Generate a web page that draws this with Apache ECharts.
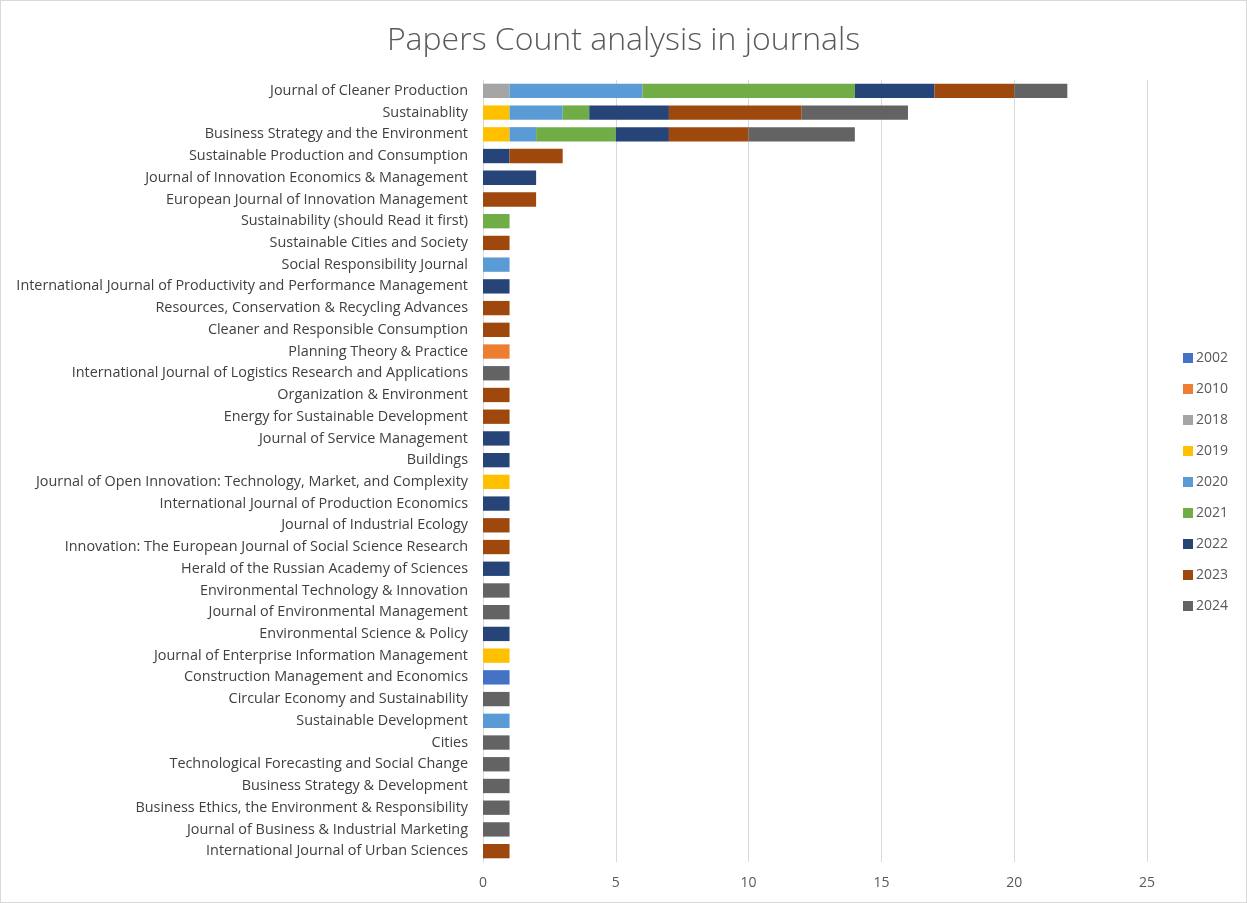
<!DOCTYPE html>
<html><head><meta charset="utf-8">
<script src="https://cdn.jsdelivr.net/npm/echarts@6/dist/echarts.min.js"></script>
<style>html,body{margin:0;padding:0;background:#fff}#c{width:1245px;height:901px;border:1px solid #d9d9d9}</style>
</head><body><div id="c"></div>
<script>
const categories = [
"Journal of Cleaner Production","Sustainablity","Business Strategy and the Environment","Sustainable Production and Consumption",
"Journal of Innovation Economics & Management","European Journal of Innovation Management","Sustainability (should Read it first)",
"Sustainable Cities and Society","Social Responsibility Journal","International Journal of Productivity and Performance Management",
"Resources, Conservation & Recycling Advances","Cleaner and Responsible Consumption","Planning Theory & Practice",
"International Journal of Logistics Research and Applications","Organization & Environment","Energy for Sustainable Development",
"Journal of Service Management","Buildings","Journal of Open Innovation: Technology, Market, and Complexity",
"International Journal of Production Economics","Journal of Industrial Ecology","Innovation: The European Journal of Social Science Research",
"Herald of the Russian Academy of Sciences","Environmental Technology & Innovation","Journal of Environmental Management",
"Environmental Science & Policy","Journal of Enterprise Information Management","Construction Management and Economics",
"Circular Economy and Sustainability","Sustainable Development","Cities","Technological Forecasting and Social Change",
"Business Strategy & Development","Business Ethics, the Environment & Responsibility","Journal of Business & Industrial Marketing",
"International Journal of Urban Sciences"];
const years = ["2002","2010","2018","2019","2020","2021","2022","2023","2024"];
const colors = ["#4472C4","#ED7D31","#A5A5A5","#FFC000","#5B9BD5","#70AD47","#264478","#9E480E","#636363"];
const v2002 = [0,0,0,0,0,0,0,0,0,0,0,0,0,0,0,0,0,0,0,0,0,0,0,0,0,0,0,1,0,0,0,0,0,0,0,0];
const v2010 = [0,0,0,0,0,0,0,0,0,0,0,0,1,0,0,0,0,0,0,0,0,0,0,0,0,0,0,0,0,0,0,0,0,0,0,0];
const v2018 = [1,0,0,0,0,0,0,0,0,0,0,0,0,0,0,0,0,0,0,0,0,0,0,0,0,0,0,0,0,0,0,0,0,0,0,0];
const v2019 = [0,1,1,0,0,0,0,0,0,0,0,0,0,0,0,0,0,0,1,0,0,0,0,0,0,0,1,0,0,0,0,0,0,0,0,0];
const v2020 = [5,2,1,0,0,0,0,0,1,0,0,0,0,0,0,0,0,0,0,0,0,0,0,0,0,0,0,0,0,1,0,0,0,0,0,0];
const v2021 = [8,1,3,0,0,0,1,0,0,0,0,0,0,0,0,0,0,0,0,0,0,0,0,0,0,0,0,0,0,0,0,0,0,0,0,0];
const v2022 = [3,3,2,1,2,0,0,0,0,1,0,0,0,0,0,0,1,1,0,1,0,0,1,0,0,1,0,0,0,0,0,0,0,0,0,0];
const v2023 = [3,5,3,2,0,2,0,1,0,0,1,1,0,0,1,1,0,0,0,0,1,1,0,0,0,0,0,0,0,0,0,0,0,0,0,1];
const v2024 = [2,4,4,0,0,0,0,0,0,0,0,0,0,1,0,0,0,0,0,0,0,0,0,1,1,0,0,0,1,0,1,1,1,1,1,0];
const seriesValues = [v2002,v2010,v2018,v2019,v2020,v2021,v2022,v2023,v2024];
const xTicks = [0,5,10,15,20,25];

const FONT = "Open Sans";
const chart = echarts.init(document.getElementById('c'), null, {renderer:'canvas'});
chart.setOption({
  animation:false,
  color: colors,
  textStyle:{fontFamily:FONT},
  title:{text:"Papers Count analysis in journals", left:'center', top:19,
    textStyle:{fontFamily:FONT, fontWeight:300, fontSize:32, color:'#595959'}},
  grid:{left:482, right:99, top:79, height:782, containLabel:false},
  legend:{orient:'vertical', left:1177, top:345, itemWidth:10, itemHeight:10, itemGap:17,
    icon:'rect', textStyle:{fontFamily:FONT, fontSize:14, color:'#595959', padding:[0,0,0,-2]},
    data: years},
  xAxis:{type:'value', min:xTicks[0], max:xTicks[xTicks.length-1], interval:5,
    axisLine:{show:false}, axisTick:{show:false},
    axisLabel:{color:'#595959', fontSize:14, fontFamily:FONT, margin:14},
    splitLine:{lineStyle:{color:'#d9d9d9'}}},
  yAxis:{type:'category', data:categories, inverse:true,
    axisLine:{lineStyle:{color:'#d9d9d9'}}, axisTick:{show:false},
    axisLabel:{color:'#404040', fontSize:14.4, fontFamily:FONT, margin:15, interval:0}},
  series: years.map((y,i)=>({name:y, type:'bar', stack:'total', barWidth:'66%',
    data: seriesValues[i].map(v=>v===0?null:v)}))
});
</script></body></html>
